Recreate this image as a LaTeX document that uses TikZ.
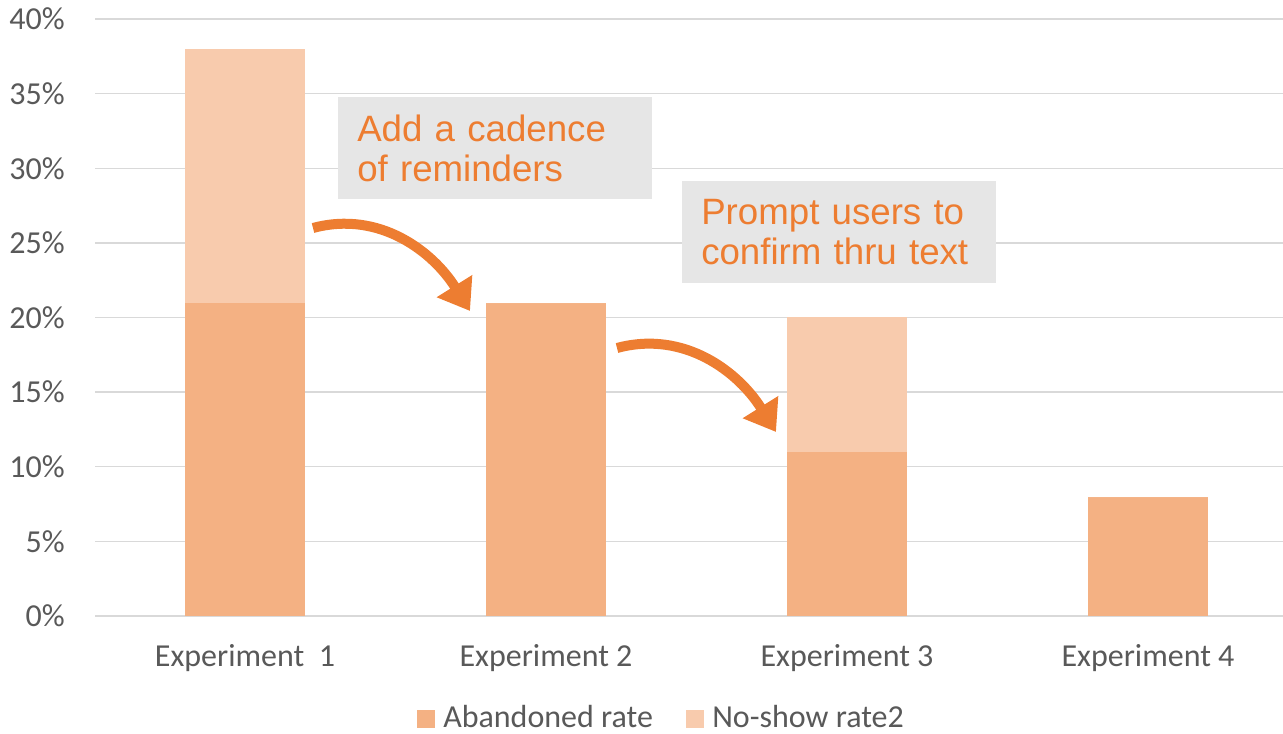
\documentclass[tikz,border=0pt]{standalone}
\usepackage{fontspec}
\setmainfont{Carlito}
\newfontfamily\notefont{Liberation Sans}
\usetikzlibrary{arrows.meta}

\definecolor{abandon}{HTML}{F4B183}
\definecolor{noshow}{HTML}{F8CBAD}
\definecolor{accent}{HTML}{ED7D31}
\definecolor{gridgray}{HTML}{D9D9D9}
\definecolor{axistext}{HTML}{595959}
\definecolor{notebg}{HTML}{E6E6E6}

\begin{document}
\begin{tikzpicture}[x=0.75pt, y=0.75pt,
    axislabel/.style={text=axistext, font=\fontsize{24}{28}\selectfont, inner sep=0pt},
    notebox/.style={fill=notebg, text=accent, font=\notefont\fontsize{27.5}{30}\selectfont,
        align=left, anchor=north west, text width=207pt, inner xsep=14pt,
        minimum width=235.5pt, minimum height=76.5pt},
    legendkey/.style={minimum size=13pt, inner sep=0pt, anchor=south west},
    bendarrow/.style={accent, line width=7.5pt, -{Triangle[width=30pt,length=22pt]}}]
    \useasboundingbox (0,0) rectangle (1283,734);

    % Gridlines and percent labels
    \foreach \p in {0,5,...,40} {
        \draw[gridgray, line width=1pt] (95,{118+\p*14.925}) -- (1283,{118+\p*14.925});
        \node[axislabel, anchor=east] (ylab\p) at (65,{118+\p*14.925}) {\p\%};
    }

    % Stacked bars: centre / abandoned / total
    \foreach \c/\a/\t/\n in {245/21/38/1, 546/21/21/2, 847/11/20/3, 1148/8/8/4} {
        \fill[abandon] (\c-60,118) rectangle (\c+60,{118+\a*14.925});
        \fill[noshow] (\c-60,{118+\a*14.925}) rectangle (\c+60,{118+\t*14.925});
    }

    % Category labels
    \node[axislabel, anchor=base] (exp1) at (245,67) {Experiment~~1};
    \node[axislabel, anchor=base] (exp2) at (546,67) {Experiment 2};
    \node[axislabel, anchor=base] (exp3) at (847,67) {Experiment 3};
    \node[axislabel, anchor=base] (exp4) at (1148,67) {Experiment 4};

    % Notes
    \node[notebox] (cadence) at (338,637) {Add a cadence\\of reminders};
    \node[notebox] (confirm) at (682,553) {Prompt users to\\confirm thru text};

    % Arrows between experiments
    \coordinate (arrA) at (313,506);
    \coordinate (tipA) at (470,423);
    \coordinate (arrB) at (617,386);
    \coordinate (tipB) at (776,302);
    \draw[bendarrow] (arrA) to[out=15, in=122] (tipA);
    \draw[bendarrow] (arrB) to[out=15, in=122] (tipB);

    % Legend
    \node[legendkey, fill=abandon] (keyA) at (417,6) {};
    \node[axislabel, anchor=base west] (labA) at (443,6) {Abandoned rate};
    \node[legendkey, fill=noshow] (keyB) at (686,6) {};
    \node[axislabel, anchor=base west] (labB) at (712,6) {No-show rate2};
\end{tikzpicture}
\end{document}
